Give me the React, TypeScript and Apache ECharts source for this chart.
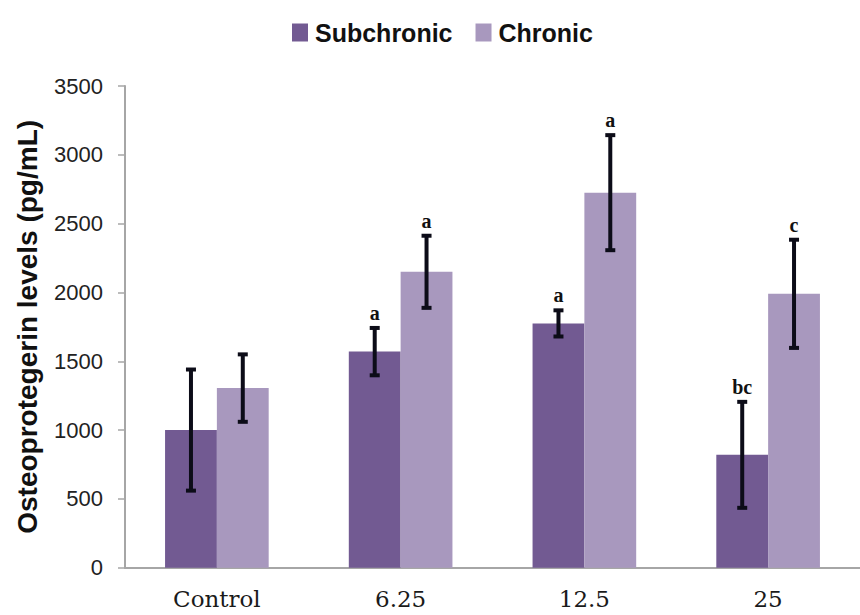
import React, { useEffect, useRef } from "react";
import * as echarts from "echarts";

const categories = ["Control", "6.25", "12.5", "25"];
const subchronic = [1000, 1570, 1775, 820];
const subchronicErr = [440, 172, 95, 385];
const subchronicLetters = ["", "a", "a", "bc"];
const chronic = [1305, 2150, 2725, 1990];
const chronicErr = [245, 262, 418, 393];
const chronicLetters = ["", "a", "a", "c"];
const yMin = 0;
const yMax = 3500;
const yStep = 500;

const SUB_COLOR = "#725a92";
const CHR_COLOR = "#a898be";
const GAP = 0.436;

function errorSeries(name: string, values: number[], errs: number[], letters: string[], side: number) {
  return {
    type: "custom",
    name,
    z: 10,
    data: values.map((v, i) => [i, v, errs[i]]),
    renderItem: (params: any, api: any) => {
      const i = api.value(0);
      const v = api.value(1);
      const e = api.value(2);
      const band = api.size([1, 0])[0];
      const bw = (band * (1 - GAP)) / 2;
      const c = api.coord([i, v]);
      const x = c[0] + (side * bw) / 2;
      const yTop = api.coord([i, v + e])[1];
      const yBot = api.coord([i, v - e])[1];
      const capW = 10;
      const stroke = { stroke: "#0c0c18", lineWidth: 4 };
      const children: any[] = [
        { type: "line", shape: { x1: x, y1: yTop, x2: x, y2: yBot }, style: { stroke: "#0c0c18", lineWidth: 4 } },
        { type: "line", shape: { x1: x - capW / 2, y1: yTop, x2: x + capW / 2, y2: yTop }, style: stroke },
        { type: "line", shape: { x1: x - capW / 2, y1: yBot, x2: x + capW / 2, y2: yBot }, style: stroke },
      ];
      const letter = letters[params.dataIndex];
      if (letter) {
        children.push({
          type: "text",
          style: {
            text: letter,
            x,
            y: yTop - 5,
            align: "center",
            verticalAlign: "bottom",
            fontSize: 20,
            fontWeight: "bold",
            fontFamily: "Liberation Serif",
            fill: "#111",
          },
        });
      }
      return { type: "group", children };
    },
  };
}

export default function App() {
  const ref = useRef<HTMLDivElement>(null);
  useEffect(() => {
    document.body.style.margin = "0";
    const chart = echarts.init(ref.current!, null, { renderer: "svg" });
    chart.setOption({
      animation: false,
      backgroundColor: "#ffffff",
      legend: {
        data: ["Subchronic", "Chronic"],
        left: 287,
        top: 15,
        itemWidth: 16,
        itemHeight: 18,
        itemGap: 23,
        icon: "rect",
        textStyle: { fontSize: 25, fontWeight: "bold", fontFamily: "Liberation Sans", color: "#111", padding: [0, 0, 0, 2] },
      },
      grid: { left: 125, top: 86, width: 745, height: 481.7 },
      xAxis: {
        type: "category",
        data: categories,
        axisLine: { lineStyle: { color: "#a6a6a6", width: 2 } },
        axisTick: { show: false },
        axisLabel: { fontSize: 23, fontFamily: "DejaVu Serif", color: "#1a1a1a", margin: 20 },
      },
      yAxis: {
        type: "value",
        min: yMin,
        max: yMax,
        interval: yStep,
        name: "Osteoprotegerin levels (pg/mL)",
        nameLocation: "middle",
        nameGap: 84,
        nameTextStyle: { fontSize: 28, fontWeight: "bold", fontFamily: "Liberation Sans", color: "#111" },
        axisLine: { show: true, lineStyle: { color: "#a6a6a6", width: 2 } },
        axisTick: { show: true, length: 7, lineStyle: { color: "#a6a6a6", width: 1.5 } },
        splitLine: { show: false },
        axisLabel: {
          fontSize: 22,
          fontFamily: "Liberation Sans",
          color: "#222",
          margin: 22,
          formatter: (v: number) => String(v),
        },
      },
      series: [
        { type: "bar", name: "Subchronic", data: subchronic, barGap: "0%", barCategoryGap: GAP * 100 + "%", itemStyle: { color: SUB_COLOR } },
        { type: "bar", name: "Chronic", data: chronic, barGap: "0%", barCategoryGap: GAP * 100 + "%", itemStyle: { color: CHR_COLOR } },
        errorSeries("Subchronic error", subchronic, subchronicErr, subchronicLetters, -1),
        errorSeries("Chronic error", chronic, chronicErr, chronicLetters, 1),
      ],
    });
    return () => chart.dispose();
  }, []);
  return <div ref={ref} style={{ width: 860, height: 615 }} />;
}
